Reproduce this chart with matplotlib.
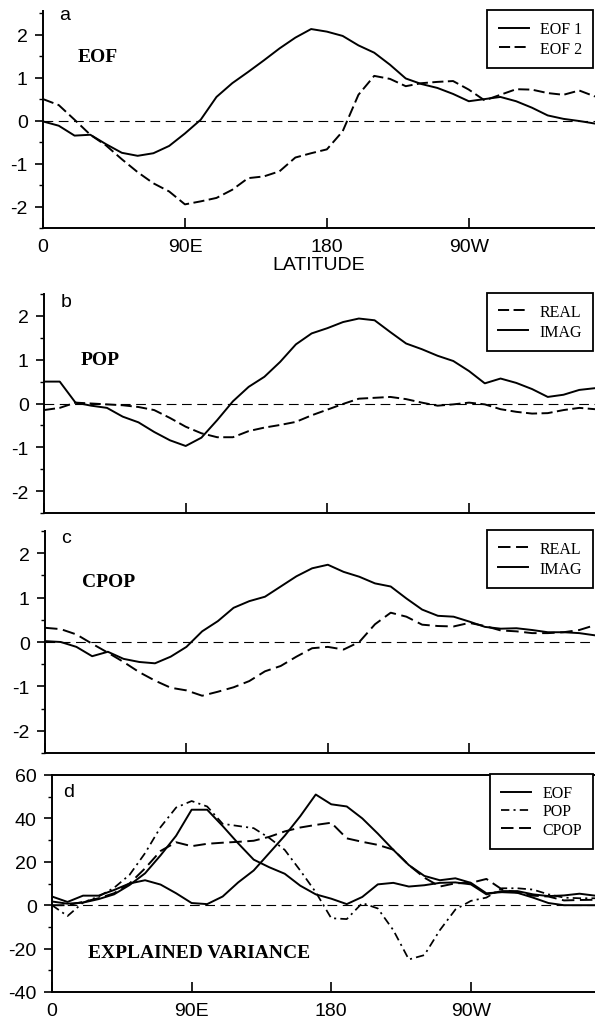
import numpy as np
import matplotlib.pyplot as plt
from matplotlib.ticker import MultipleLocator

plt.rcParams['font.family'] = ['Liberation Sans', 'DejaVu Sans']
plt.rcParams['axes.unicode_minus'] = False
plt.rcParams['lines.scale_dashes'] = False

W, H = 595, 1020
SERIF = ['Liberation Serif', 'DejaVu Serif']

LON = np.arange(0, 360, 10)
XTICKS = [0, 90, 180, 270]
XTICKLABELS = ['0', '90E', '180', '90W']
YTICKS_PAT = [-2, -1, 0, 1, 2]
YTICKS_VAR = [-40, -20, 0, 20, 40, 60]

# a: EOF patterns
EOF1 = [-0.02, -0.12, -0.35, -0.33, -0.55, -0.75, -0.82, -0.76, -0.59, -0.30,
        0.02, 0.55, 0.87, 1.13, 1.40, 1.68, 1.93, 2.13, 2.07, 1.97,
        1.75, 1.58, 1.30, 0.98, 0.85, 0.76, 0.62, 0.45, 0.50, 0.55,
        0.45, 0.30, 0.12, 0.04, -0.01, -0.07]
EOF2 = [0.50, 0.36, 0.02, -0.33, -0.58, -0.90, -1.20, -1.46, -1.65, -1.95,
        -1.88, -1.80, -1.61, -1.34, -1.30, -1.18, -0.86, -0.76, -0.67, -0.25,
        0.60, 1.04, 0.97, 0.80, 0.87, 0.90, 0.92, 0.72, 0.47, 0.60,
        0.73, 0.72, 0.64, 0.60, 0.70, 0.56]

# b: POP
POP_REAL = [-0.15, -0.10, 0.02, 0.00, -0.02, -0.04, -0.08, -0.15, -0.33, -0.53,
            -0.68, -0.77, -0.77, -0.63, -0.55, -0.49, -0.42, -0.27, -0.14, -0.01,
            0.11, 0.13, 0.15, 0.10, 0.02, -0.05, -0.02, 0.02, -0.02, -0.13,
            -0.19, -0.23, -0.22, -0.15, -0.10, -0.13]
POP_IMAG = [0.50, 0.50, 0.02, -0.05, -0.10, -0.30, -0.43, -0.65, -0.84, -0.97,
            -0.78, -0.38, 0.05, 0.38, 0.61, 0.95, 1.35, 1.60, 1.72, 1.86,
            1.94, 1.90, 1.63, 1.37, 1.24, 1.09, 0.97, 0.74, 0.46, 0.57,
            0.47, 0.33, 0.15, 0.20, 0.31, 0.35]

# c: CPOP
CPOP_REAL = [0.32, 0.29, 0.17, -0.04, -0.24, -0.45, -0.68, -0.87, -1.03, -1.09,
             -1.21, -1.12, -1.02, -0.88, -0.66, -0.54, -0.33, -0.14, -0.11, -0.17,
             0.00, 0.40, 0.66, 0.57, 0.39, 0.36, 0.35, 0.43, 0.36, 0.26,
             0.24, 0.20, 0.20, 0.22, 0.27, 0.38]
CPOP_IMAG = [0.02, 0.00, -0.11, -0.32, -0.22, -0.38, -0.45, -0.48, -0.33, -0.11,
             0.24, 0.47, 0.77, 0.92, 1.02, 1.25, 1.48, 1.66, 1.74, 1.58,
             1.47, 1.32, 1.25, 0.98, 0.73, 0.59, 0.57, 0.46, 0.34, 0.30,
             0.31, 0.27, 0.22, 0.22, 0.20, 0.15]

# d: explained variance (%)
VAR_EOF1 = [4.0, 1.5, 4.4, 4.4, 7.0, 10.0, 11.5, 9.5, 5.5, 1.0,
            0.5, 4.0, 10.5, 16.0, 24.0, 32.0, 41.0, 51.0, 46.5, 45.5,
            40.0, 33.0, 25.5, 18.5, 13.5, 11.5, 12.4, 10.3, 5.5, 6.0,
            5.7, 3.5, 1.0, 0.0, 0.0, 0.0]
VAR_EOF2 = [1.7, 0.7, 1.2, 2.8, 5.0, 9.3, 14.7, 23.0, 32.0, 44.0,
            44.0, 36.5, 28.5, 21.0, 17.5, 14.5, 9.0, 5.0, 3.0, 0.5,
            3.8, 9.6, 10.3, 8.6, 9.2, 10.3, 10.5, 9.6, 5.0, 6.5,
            6.5, 5.0, 4.2, 4.5, 5.3, 4.4]
VAR_POP = [0.0, -5.0, 1.2, 4.0, 8.0, 14.0, 24.0, 36.0, 45.0, 48.0,
           45.5, 37.5, 36.5, 35.5, 31.0, 25.5, 16.0, 6.0, -6.0, -6.4,
           1.0, -1.5, -11.5, -25.0, -23.0, -11.5, -2.0, 2.0, 3.5, 7.8,
           7.8, 7.2, 5.0, 3.5, 3.2, 3.2]
VAR_CPOP = [0.0, 0.0, 1.5, 3.2, 5.5, 10.0, 17.0, 25.0, 29.0, 27.2,
            28.3, 28.8, 29.2, 29.7, 31.5, 34.0, 35.8, 37.0, 38.0, 30.8,
            29.2, 27.8, 25.6, 18.5, 12.7, 8.6, 10.1, 10.3, 12.1, 7.3,
            5.8, 4.4, 4.0, 2.2, 2.4, 2.5]

LW = 1.4
DASH = (8, 3.2)
LONGDASH = (9, 4)
DASHDOT = (6, 3, 1.5, 3)
TICKSIZE = 14


def make_axes(fig, left, top, bottom):
    return fig.add_axes([left / W, 1 - bottom / H, 1 - left / W, (bottom - top) / H])


def style_axes(ax, yticks, ylim, minor, show_xlabels, top_spine=False):
    ax.set_xlim(0, 350)
    ax.set_ylim(*ylim)
    ax.set_xticks(XTICKS)
    ax.set_xticklabels(XTICKLABELS if show_xlabels else [])
    ax.set_yticks(yticks)
    ax.set_yticklabels([str(t) for t in yticks])
    ax.yaxis.set_minor_locator(MultipleLocator(minor))
    ax.tick_params(axis='y', which='major', direction='out', length=6, width=1.2,
                   pad=5, labelsize=TICKSIZE)
    ax.tick_params(axis='y', which='minor', direction='out', length=3, width=1.0)
    ax.tick_params(axis='x', which='major', direction='in', length=7, width=1.2,
                   pad=7, labelsize=TICKSIZE)
    ax.spines['right'].set_visible(False)
    ax.spines['top'].set_visible(top_spine)
    for s in ['left', 'bottom', 'top']:
        ax.spines[s].set_linewidth(1.4)
    ax.axhline(0, color='black', lw=0.8, ls=(0, (7, 4)))


def add_legend(ax, labelspacing=0.25):
    leg = ax.legend(loc='upper right', bbox_to_anchor=(0.997, 1.005), borderaxespad=0,
                    prop={'family': SERIF, 'size': 11.5}, frameon=True, fancybox=False,
                    edgecolor='black', framealpha=1, handlelength=1.9, handletextpad=0.7,
                    labelspacing=labelspacing, borderpad=0.7)
    leg.get_frame().set_linewidth(1.3)


fig = plt.figure(figsize=(W / 100, H / 100), dpi=100)

# a
ax = make_axes(fig, 43, 12, 229)
ax.plot(LON, EOF1, color='black', lw=LW, label='EOF 1')
ax.plot(LON, EOF2, color='black', lw=LW, dashes=DASH, label='EOF 2')
style_axes(ax, YTICKS_PAT, (-2.5, 2.55), 0.5, True)
ax.set_xlabel('LATITUDE', fontsize=TICKSIZE, labelpad=1)
ax.text(22, 1.48, 'EOF', family=SERIF, weight='bold', fontsize=14, va='center')
ax.text(0.03, 0.963, 'a', transform=ax.transAxes, fontsize=TICKSIZE)
add_legend(ax)

# b
ax = make_axes(fig, 44, 295, 514)
ax.plot(LON, POP_REAL, color='black', lw=LW, dashes=DASH, label='REAL')
ax.plot(LON, POP_IMAG, color='black', lw=LW, label='IMAG')
style_axes(ax, YTICKS_PAT, (-2.5, 2.5), 0.5, False)
ax.text(23, 1.0, 'POP', family=SERIF, weight='bold', fontsize=14, va='center')
ax.text(0.03, 0.947, 'b', transform=ax.transAxes, fontsize=TICKSIZE)
add_legend(ax)

# c
ax = make_axes(fig, 45, 532, 754)
ax.plot(LON, CPOP_REAL, color='black', lw=LW, dashes=LONGDASH, label='REAL')
ax.plot(LON, CPOP_IMAG, color='black', lw=LW, label='IMAG')
style_axes(ax, YTICKS_PAT, (-2.5, 2.5), 0.5, False)
ax.text(23.5, 1.37, 'CPOP', family=SERIF, weight='bold', fontsize=14, va='center')
ax.text(0.03, 0.95, 'c', transform=ax.transAxes, fontsize=TICKSIZE)
add_legend(ax)

# d
ax = make_axes(fig, 52, 776, 993)
ax.plot(LON, VAR_EOF1, color='black', lw=LW, label='EOF')
ax.plot(LON, VAR_EOF2, color='black', lw=LW)
ax.plot(LON, VAR_POP, color='black', lw=LW * 0.9, dashes=DASHDOT, label='POP')
ax.plot(LON, VAR_CPOP, color='black', lw=LW, dashes=LONGDASH, label='CPOP')
style_axes(ax, YTICKS_VAR, (-40, 60), 10, True, top_spine=True)
ax.text(23, -21.6, 'EXPLAINED VARIANCE', family=SERIF, weight='bold', fontsize=14,
        va='center')
ax.text(0.02, 0.903, 'd', transform=ax.transAxes, fontsize=TICKSIZE)
add_legend(ax, labelspacing=0.15)

fig.savefig('out.png', dpi=100)
